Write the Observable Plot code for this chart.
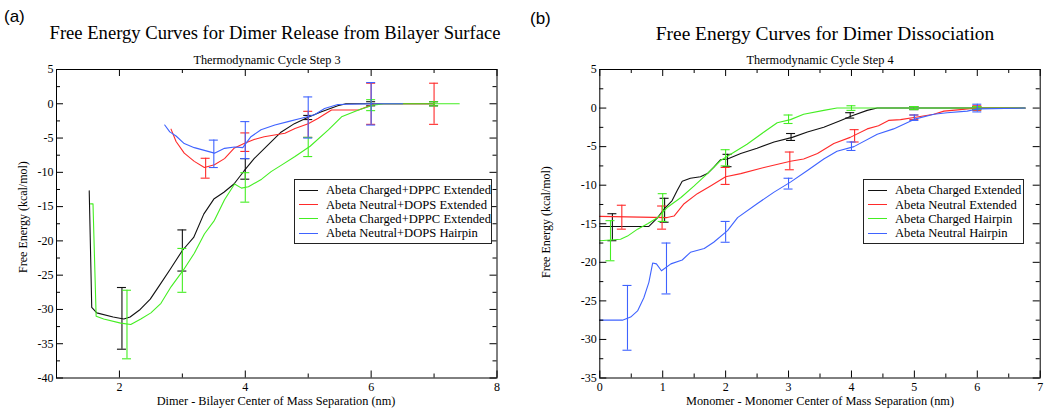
<!DOCTYPE html>
<html><head><meta charset="utf-8">
<script src="https://cdn.jsdelivr.net/npm/d3@7"></script>
<script src="https://cdn.jsdelivr.net/npm/@observablehq/plot@0.6"></script>
<style>
body{margin:0;background:#fff;}
#root{position:relative;width:1050px;height:414px;overflow:hidden;font-family:"Liberation Serif",serif;color:#000;}
#root svg{font-family:"Liberation Serif",serif !important;font-size:12px !important;}
#root svg text{font-family:"Liberation Serif",serif !important;}
.abs{position:absolute;white-space:nowrap;line-height:1;}
.ctr{transform:translateX(-50%);}
.title{font-size:18.6px;}
.titleb{font-size:19.4px;}
.sub{font-size:12.3px;}
.xlab{font-size:12.3px;}
.ylab{font-size:12px;transform:translate(-50%,-50%) rotate(-90deg);}
.panel{font-family:"Liberation Sans",Arial,sans-serif;font-size:17px;}
.legend{position:absolute;border:1px solid #222;background:#fff;box-sizing:border-box;}
.legend .row{position:absolute;left:0;height:14px;line-height:14px;font-size:12.6px;white-space:nowrap;}
.legend .sw{position:absolute;left:4px;top:6.5px;width:19px;height:1.4px;}
.legend .tx{position:absolute;left:31px;top:0;}
</style></head>
<body><div id="root"></div>
<script>
// ---------- Panel (a) data ----------
const aNames = ["Abeta Charged+DPPC Extended","Abeta Neutral+DOPS Extended","Abeta Charged+DPPC Extended","Abeta Neutral+DOPS Hairpin"];
const a1X = [1.52,1.56,1.64,1.9,2.07,2.17,2.33,2.49,2.65,2.81,3.0,3.18,3.34,3.5,3.66,3.82,3.98,4.14,4.35,4.56,4.78,4.99,5.2,5.47,5.6,6.0,7.0];
const a1Y = [-12.7,-29.7,-30.5,-31.1,-31.4,-31.1,-30,-28.5,-26.3,-24.1,-21.4,-19.5,-16.1,-13.9,-12.9,-11.7,-9.8,-8.0,-6.1,-4.2,-2.9,-2.0,-1.2,-0.3,0,0,0];
const a1EX = [2.04,3.0,4.0,5.0,6.0,7.0];
const a1EY = [-31.3,-21.4,-9.5,-2.0,0,0];
const a1E  = [4.5,3.0,1.5,0.3,0.3,0.3];

const a2X = [2.82,2.9,3.03,3.19,3.35,3.51,3.67,3.82,3.98,4.14,4.3,4.63,4.79,5.0,5.16,5.37,5.8,6.06,7.0];
const a2Y = [-3.7,-5.5,-7.2,-8.4,-9.3,-8.9,-8.0,-6.5,-5.8,-5.2,-4.8,-4.3,-3.6,-2.9,-2.1,-0.9,-0.9,0,0];
const a2EX = [3.37,4.0,5.0,6.0,7.0];
const a2EY = [-9.4,-5.6,-3.0,0,0];
const a2E  = [1.45,1.35,1.9,3.0,3.0];

const a3X = [1.54,1.58,1.63,1.75,2.02,2.18,2.34,2.5,2.66,2.82,3.02,3.19,3.35,3.51,3.67,3.83,3.94,4.05,4.26,4.41,4.6,4.79,5.03,5.32,5.53,5.8,6.03,6.2,7.4];
const a3Y = [-14.6,-14.6,-31.0,-31.4,-32.0,-32.2,-31.4,-30.5,-29.1,-26.7,-24.2,-21.8,-19.0,-17.0,-14.0,-11.7,-12.3,-12.1,-11.0,-9.9,-8.8,-7.7,-6.2,-3.8,-1.9,-0.9,-0.2,0,0];
const a3EX = [2.12,3.0,4.0,5.0,6.0,7.0];
const a3EY = [-32.2,-24.3,-12.2,-6.3,-0.2,0];
const a3E  = [5.0,3.2,2.15,1.4,0.8,0.3];

const a4X = [2.72,2.8,2.9,3.03,3.19,3.35,3.51,3.67,3.83,3.96,4.09,4.25,4.47,4.68,4.89,5.1,5.26,5.47,6.0,6.5];
const a4Y = [-3.1,-4.1,-4.7,-5.8,-6.4,-6.8,-7.2,-6.5,-6.3,-6.4,-4.8,-3.8,-3.1,-2.6,-2.1,-1.6,-0.7,-0.1,0,0];
const a4EX = [3.5,4.0,5.0,6.0];
const a4EY = [-7.3,-5.3,-2.0,0];
const a4E  = [2.0,2.7,3.0,3.1];

const aXMajor = [2,4,6,8];
const aXMinor = [3,5,7];
const aYMajor = [5,0,-5,-10,-15,-20,-25,-30,-35,-40];
const aYMinor = [2.5,-2.5,-7.5,-12.5,-17.5,-22.5,-27.5,-32.5,-37.5];

// ---------- Panel (b) data ----------
const bNames = ["Abeta Charged Extended","Abeta Neutral Extended","Abeta Charged Hairpin","Abeta Neutral Hairpin"];
const b1X = [0,0.78,0.92,1.02,1.15,1.23,1.31,1.44,1.6,1.71,1.81,1.92,2.03,2.24,2.5,2.77,3.06,3.3,3.56,3.83,4.01,4.25,4.41,6.76];
const b1Y = [-15.35,-15.35,-14.2,-13.1,-12.0,-10.7,-9.5,-9.1,-8.9,-8.5,-7.7,-6.7,-6.6,-5.9,-5.2,-4.4,-3.8,-3.1,-2.5,-1.6,-1.0,-0.3,0,0];
const b1EX = [0.2,1.03,2.03,3.04,3.98,5.0,6.0];
const b1EY = [-15.45,-13.25,-6.8,-3.75,-0.95,0,0];
const b1E  = [1.75,1.55,0.8,0.45,0.35,0.2,0.2];

const b2X = [0,1.07,1.18,1.34,1.55,1.76,2.0,2.24,2.61,3.03,3.24,3.46,3.72,3.98,4.25,4.43,4.59,4.78,5.02,5.31,5.47,5.73,6.0,6.76];
const b2Y = [-14.05,-14.2,-14.0,-12.4,-11.1,-10.1,-8.9,-8.5,-7.7,-6.9,-6.6,-5.9,-4.6,-3.8,-2.7,-2.3,-1.6,-1.5,-1.2,-0.8,-0.4,-0.2,0,0];
const b2EX = [0.35,0.99,2.0,3.02,4.05,5.0,6.0];
const b2EY = [-14.15,-14.2,-8.8,-6.85,-3.6,-1.2,0];
const b2E  = [1.55,1.5,1.1,1.15,0.8,0.3,0.3];

const b3X = [0,0.33,0.44,0.6,0.76,0.92,1.07,1.29,1.5,1.71,1.92,2.08,2.34,2.61,2.82,3.03,3.24,3.56,3.77,6.76];
const b3Y = [-17.2,-17.0,-16.6,-15.7,-15.0,-14.2,-12.9,-11.6,-10.1,-8.5,-6.8,-6.0,-4.7,-3.1,-1.9,-1.5,-0.8,-0.3,0,0];
const b3EX = [0.17,1.0,2.0,3.0,4.0,5.0,6.0];
const b3EY = [-17.2,-12.9,-6.45,-1.45,0,0,0];
const b3E  = [2.6,1.8,1.05,0.55,0.3,0.2,0.2];

const b4X = [0,0.36,0.49,0.6,0.7,0.78,0.84,0.9,0.98,1.13,1.31,1.44,1.66,1.81,2.03,2.19,2.5,2.77,3.03,3.3,3.56,3.77,4.04,4.41,4.67,5.02,5.31,5.52,5.84,6.02,6.76];
const b4Y = [-27.5,-27.5,-27.1,-26.3,-24.6,-22.6,-20.1,-20.2,-21.1,-20.2,-19.7,-18.7,-18.2,-17.4,-15.9,-14.2,-12.4,-10.9,-9.6,-8.1,-6.6,-5.6,-5.0,-3.4,-2.7,-1.4,-0.8,-0.6,-0.4,-0.1,0];
const b4EX = [0.44,1.06,2.0,3.0,4.0,5.0,6.0];
const b4EY = [-27.2,-20.8,-16.05,-9.8,-4.95,-1.25,0];
const b4E  = [4.2,3.3,1.35,0.7,0.55,0.35,0.5];

const bXMajor = [0,1,2,3,4,5,6,7];
const bXMinor = [0.5,1.5,2.5,3.5,4.5,5.5,6.5];
const bYMajor = [5,0,-5,-10,-15,-20,-25,-30,-35];
const bYMinor = [2.5,-2.5,-7.5,-12.5,-17.5,-22.5,-27.5,-32.5];

// ---------- styles ----------
const COLORS = ["#111111","#ff2a2a","#44ee22","#3f63ff"];
const W = 525, H = 414, MT = 69, MB = 36.5;

function pts(xs, ys) { return xs.map((x, i) => ({x, y: ys[i]})); }
function errs(xs, ys, es) { return xs.map((x, i) => ({x, y: ys[i], e: es[i]})); }

function makePanel(o) {
  const ih = H - MT - MB, iw = W - o.ml - o.mr;
  const marks = [];
  o.series.forEach((s, k) => {
    const c = COLORS[k];
    marks.push(Plot.line(pts(s[0], s[1]), {x: "x", y: "y", stroke: c, strokeWidth: 1.1}));
    const ed = errs(s[2], s[3], s[4]);
    marks.push(Plot.ruleX(ed, {x: "x", y1: d => d.y - d.e, y2: d => d.y + d.e, stroke: c, strokeWidth: 1.1}));
    marks.push(Plot.ruleY(ed, {y: d => d.y + d.e, x1: "x", x2: "x", insetLeft: -4.5, insetRight: -4.5, stroke: c, strokeWidth: 1.1}));
    marks.push(Plot.ruleY(ed, {y: d => d.y - d.e, x1: "x", x2: "x", insetLeft: -4.5, insetRight: -4.5, stroke: c, strokeWidth: 1.1}));
  });
  const tick = (vals, len, dim) => {
    if (dim === "x") return [
      Plot.ruleX(vals, {x: d => d, insetTop: ih - len, stroke: "#000"}),
      Plot.ruleX(vals, {x: d => d, insetBottom: ih - len, stroke: "#000"})
    ];
    return [
      Plot.ruleY(vals, {y: d => d, insetRight: iw - len, stroke: "#000"}),
      Plot.ruleY(vals, {y: d => d, insetLeft: iw - len, stroke: "#000"})
    ];
  };
  marks.push(...tick(o.xMajor, 7, "x"), ...tick(o.xMinor, 4, "x"), ...tick(o.yMajor, 7, "y"), ...tick(o.yMinor, 4, "y"));
  marks.push(Plot.frame({stroke: "#000"}));
  marks.push(Plot.axisX(o.xMajor, {anchor: "bottom", tickSize: 0, tickPadding: 4, tickFormat: d => String(d), label: null, fontSize: 12}));
  marks.push(Plot.axisY(o.yMajor, {anchor: "left", tickSize: 0, tickPadding: 3, tickFormat: d => String(d), label: null, fontSize: 12}));
  const svg = Plot.plot({
    width: W, height: H,
    marginLeft: o.ml, marginRight: o.mr, marginTop: MT, marginBottom: MB,
    x: {type: "linear", domain: o.xDomain},
    y: {type: "linear", domain: o.yDomain},
    marks
  });
  svg.setAttribute("font-family", "Liberation Serif");
  svg.setAttribute("font-size", "12");
  svg.querySelectorAll("text").forEach(t => { t.setAttribute("font-family", "Liberation Serif"); t.style.fontFamily = "'Liberation Serif', serif"; });
  return svg;
}

const root = document.getElementById("root");
function addSvg(svg, left) {
  svg.style.position = "absolute"; svg.style.left = left + "px"; svg.style.top = "0px";
  svg.style.background = "transparent";
  root.appendChild(svg);
}
addSvg(makePanel({ml: 56, mr: 28.5, xDomain: [1, 8], yDomain: [-40, 5],
  xMajor: aXMajor, xMinor: aXMinor, yMajor: aYMajor, yMinor: aYMinor,
  series: [[a1X,a1Y,a1EX,a1EY,a1E],[a2X,a2Y,a2EX,a2EY,a2E],[a3X,a3Y,a3EX,a3EY,a3E],[a4X,a4Y,a4EX,a4EY,a4E]]}), 0);
addSvg(makePanel({ml: 74.3, mr: 10.3, xDomain: [0, 7], yDomain: [-35, 5],
  xMajor: bXMajor, xMinor: bXMinor, yMajor: bYMajor, yMinor: bYMinor,
  series: [[b1X,b1Y,b1EX,b1EY,b1E],[b2X,b2Y,b2EX,b2EY,b2E],[b3X,b3Y,b3EX,b3EY,b3E],[b4X,b4Y,b4EX,b4EY,b4E]]}), 525);

function addText(cls, txt, left, top) {
  const d = document.createElement("div");
  d.className = "abs " + cls; d.textContent = txt;
  d.style.left = left + "px"; d.style.top = top + "px";
  root.appendChild(d);
}
addText("panel", "(a)", 4, 8);
addText("panel", "(b)", 530, 10);
addText("title ctr", "Free Energy Curves for Dimer Release from Bilayer Surface", 275, 24);
addText("sub ctr", "Thermodynamic Cycle Step 3", 267, 54);
addText("titleb ctr", "Free Energy Curves for Dimer Dissociation", 825, 24);
addText("sub ctr", "Thermodynamic Cycle Step 4", 820, 54);
addText("xlab ctr", "Dimer - Bilayer Center of Mass Separation (nm)", 276, 395);
addText("xlab ctr", "Monomer - Monomer Center of Mass Separation (nm)", 820, 395);
addText("ylab", "Free Energy (kcal/mol)", 23, 217);
addText("ylab", "Free Energy (kcal/mol)", 546, 222);

function addLegend(names, left, top, w, h) {
  const box = document.createElement("div");
  box.className = "legend";
  Object.assign(box.style, {left: left + "px", top: top + "px", width: w + "px", height: h + "px"});
  const rows = [3, 17.5, 31.5, 46];
  names.forEach((n, k) => {
    const r = document.createElement("div");
    r.className = "row"; r.style.top = rows[k] + "px";
    const sw = document.createElement("div"); sw.className = "sw"; sw.style.background = COLORS[k];
    const tx = document.createElement("div"); tx.className = "tx"; tx.textContent = n;
    r.appendChild(sw); r.appendChild(tx); box.appendChild(r);
  });
  root.appendChild(box);
}
addLegend(aNames, 294, 179, 198, 65);
addLegend(bNames, 863, 179, 161, 65);
</script></body></html>
